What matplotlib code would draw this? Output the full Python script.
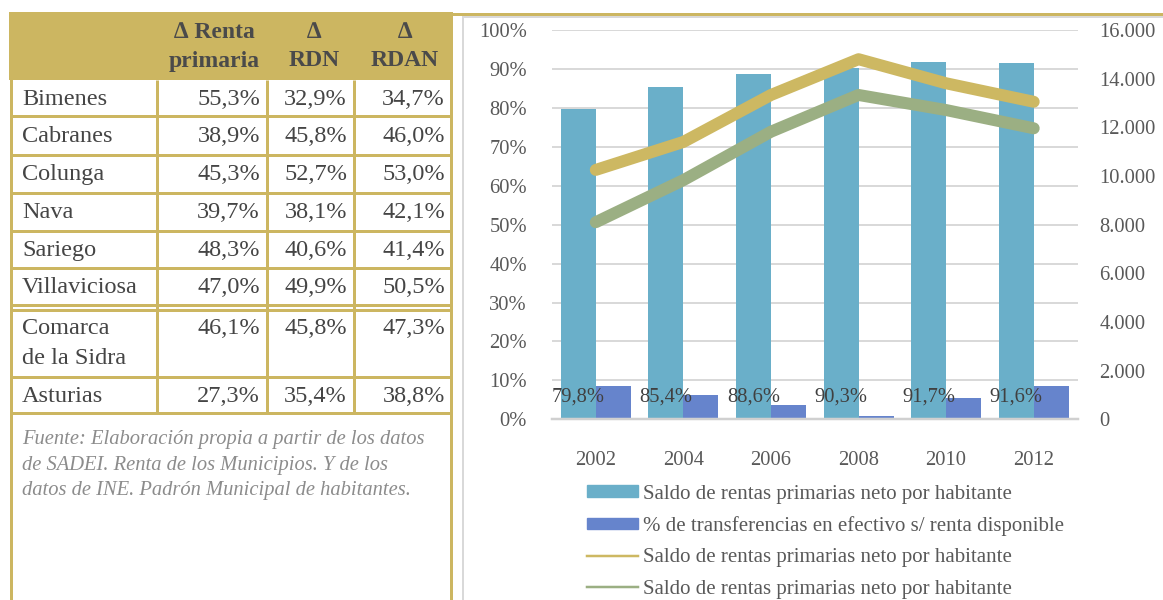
import numpy as np
import matplotlib; matplotlib.use("Agg")
import matplotlib.pyplot as plt
from matplotlib.patches import Rectangle, Patch
from matplotlib.lines import Line2D
from matplotlib.ticker import FuncFormatter

plt.rcParams["font.family"] = ["Liberation Serif", "DejaVu Serif"]

# ── Table data ────────────────────────────────────────────────────────────────
col_headers = ["∆ Renta\nprimaria", "∆\nRDN", "∆\nRDAN"]
municipios = ["Bimenes", "Cabranes", "Colunga", "Nava", "Sariego",
              "Villaviciosa", "Comarca\nde la Sidra", "Asturias"]
renta_primaria = [55.3, 38.9, 45.3, 39.7, 48.3, 47.0, 46.1, 27.3]
rdn = [32.9, 45.8, 52.7, 38.1, 40.6, 49.9, 45.8, 35.4]
rdan = [34.7, 46.0, 53.0, 42.1, 41.4, 50.5, 47.3, 38.8]
fuente = ("Fuente: Elaboración propia a partir de los datos\n"
          "de SADEI. Renta de los Municipios. Y de los\n"
          "datos de INE. Padrón Municipal de habitantes.")

# ── Chart data ────────────────────────────────────────────────────────────────
years = ["2002", "2004", "2006", "2008", "2010", "2012"]
saldo_pct = [79.8, 85.4, 88.6, 90.3, 91.7, 91.6]
transf_pct = [8.5, 6.2, 3.7, 0.9, 5.4, 8.5]
saldo_gold = [10250, 11400, 13330, 14800, 13810, 13050]
saldo_green = [8100, 9830, 11820, 13330, 12710, 11960]
legend_labels = ["Saldo de rentas primarias neto por habitante",
                 "% de transferencias en efectivo s/ renta disponible",
                 "Saldo de rentas primarias neto por habitante",
                 "Saldo de rentas primarias neto por habitante"]

GOLD = "#CCB661"
C_BAR1 = "#6AAFC9"
C_BAR2 = "#6684CC"
C_LINE1 = "#CDB862"
C_LINE2 = "#9BAF83"
TXT = "#454545"
GRID = "#D9D9D9"

W, H = 1163, 600
fig = plt.figure(figsize=(W / 100, H / 100), dpi=100, facecolor="white")
PX = 72 / 100  # points per pixel
FS_T = 17.5

# ── Background layer (table + frame), pixel coordinates ──────────────────────
bg = fig.add_axes([0, 0, 1, 1], zorder=0)
bg.set_xlim(0, W); bg.set_ylim(H, 0); bg.axis("off")

bg.add_patch(Rectangle((9, 12), 444, 68, color=GOLD, lw=0))
lw_t = 3 * PX
col_x = [157.3, 266.7, 353.7]
row_y = [80, 116.3, 154.5, 192.5, 230.7, 268, 305, 377.3, 413]
bg.vlines([10.5, 451.3], 12, H, color=GOLD, lw=lw_t)
bg.vlines(col_x, 80, 413, color=GOLD, lw=lw_t)
bg.hlines(row_y[1:], 10.5, 451.3, color=GOLD, lw=lw_t)
bg.hlines(309.5, 12, 451.3, color=GOLD, lw=lw_t)

# header
hdr_cx = [214, 314, 405]
for cx, h in zip(hdr_cx, col_headers):
    top, bot = h.split("\n")
    bg.text(cx, 33, top, ha="center", va="center", fontsize=17,
            fontweight="bold", color="#4A4A4A")
    bg.text(cx, 61, bot, ha="center", va="center", fontsize=17,
            fontweight="bold", color="#4A4A4A")

# body
fmt = lambda v: f"{v:.1f}%".replace(".", ",")
val_right = [260, 347, 445]
row_tops = [80, 116.3, 154.5, 192.5, 230.7, 268, 309.5, 377.3]
row_bots = [116.3, 154.5, 192.5, 230.7, 268, 305, 377.3, 413]
for i, name in enumerate(municipios):
    if "\n" in name:
        y0 = 329
        a, b = name.split("\n")
        bg.text(22, y0, a, ha="left", va="center", fontsize=FS_T, color=TXT)
        bg.text(22, 358, b, ha="left", va="center", fontsize=FS_T, color=TXT)
    else:
        y0 = (row_tops[i] + row_bots[i]) / 2 + 1
        bg.text(22, y0, name, ha="left", va="center", fontsize=FS_T, color=TXT)
    for xr, vals in zip(val_right, [renta_primaria, rdn, rdan]):
        bg.text(xr, y0, fmt(vals[i]), ha="right", va="center",
                fontsize=FS_T, color=TXT)

bg.text(22, 430, fuente, ha="left", va="top", fontsize=14.8, style="italic",
        color="#8C8C8C", linespacing=1.48)

# chart frame
bg.hlines(13.5, 451, W, color=GOLD, lw=lw_t)
bg.plot([W + 5, 462.5, 462.5], [17, 17, H + 5], color=GRID, lw=2 * PX,
        solid_joinstyle="miter")

# ── Chart ─────────────────────────────────────────────────────────────────────
x0, x1, ytop, ybot = 552, 1077.5, 30, 419.3
ax = fig.add_axes([x0 / W, (H - ybot) / H, (x1 - x0) / W, (ybot - ytop) / H],
                  zorder=2)
ax.set_facecolor("none")
x = np.arange(len(years))
bw = 0.4
ax.bar(x - bw / 2, np.array(saldo_pct) / 100, bw, color=C_BAR1, zorder=2)
ax.bar(x + bw / 2, np.array(transf_pct) / 100, bw, color=C_BAR2, zorder=2)
ax.set_xlim(-0.5, len(years) - 0.5)
ax.set_ylim(0, 1)
ax.set_yticks(np.arange(0, 1.01, 0.1))
ax.yaxis.set_major_formatter(FuncFormatter(lambda v, p: f"{v * 100:.0f}%"))
ax.set_xticks(x)
ax.set_xticklabels(years)
ax.yaxis.grid(True, color=GRID, lw=2 * PX, zorder=0)
ax.set_axisbelow(True)
for s in ["top", "right", "left"]:
    ax.spines[s].set_visible(False)
ax.spines["bottom"].set_color("#D0D0D0")
ax.spines["bottom"].set_linewidth(2.5 * PX)
ax.tick_params(axis="y", length=0, pad=25 * PX, labelsize=14.8, labelcolor="#595959")
ax.tick_params(axis="x", length=0, pad=32 * PX, labelsize=14.8, labelcolor="#595959")

for xi, v in zip(x, saldo_pct):
    ax.text(xi - bw / 2, 0.058, fmt(v), ha="center", va="center",
            fontsize=14.8, color="#404040", zorder=5)

ax2 = ax.twinx()
ax2.set_ylim(0, 16000)
ax2.set_yticks(np.arange(0, 16001, 2000))
ax2.yaxis.set_major_formatter(FuncFormatter(
    lambda v, p: f"{v:,.0f}".replace(",", ".")))
for s in ax2.spines.values():
    s.set_visible(False)
ax2.tick_params(axis="y", length=0, pad=22 * PX, labelsize=14.8, labelcolor="#595959")
ax2.plot(x, saldo_gold, color=C_LINE1, lw=12 * PX, solid_capstyle="round",
         solid_joinstyle="round", zorder=3)
ax2.plot(x, saldo_green, color=C_LINE2, lw=12 * PX, solid_capstyle="round",
         solid_joinstyle="round", zorder=3)

handles = [Patch(color=C_BAR1), Patch(color=C_BAR2),
           Line2D([], [], color=C_LINE1, lw=2.5 * PX),
           Line2D([], [], color=C_LINE2, lw=2.5 * PX)]
fig.legend(handles, legend_labels, loc="upper left",
           bbox_to_anchor=(587 / W, 1 - 484.5 / H), frameon=False,
           fontsize=15, labelcolor="#595959", handlelength=2.45,
           handleheight=0.5, handletextpad=0.25, labelspacing=0.6,
           borderpad=0, borderaxespad=0)

fig.savefig("out.png", dpi=100)
